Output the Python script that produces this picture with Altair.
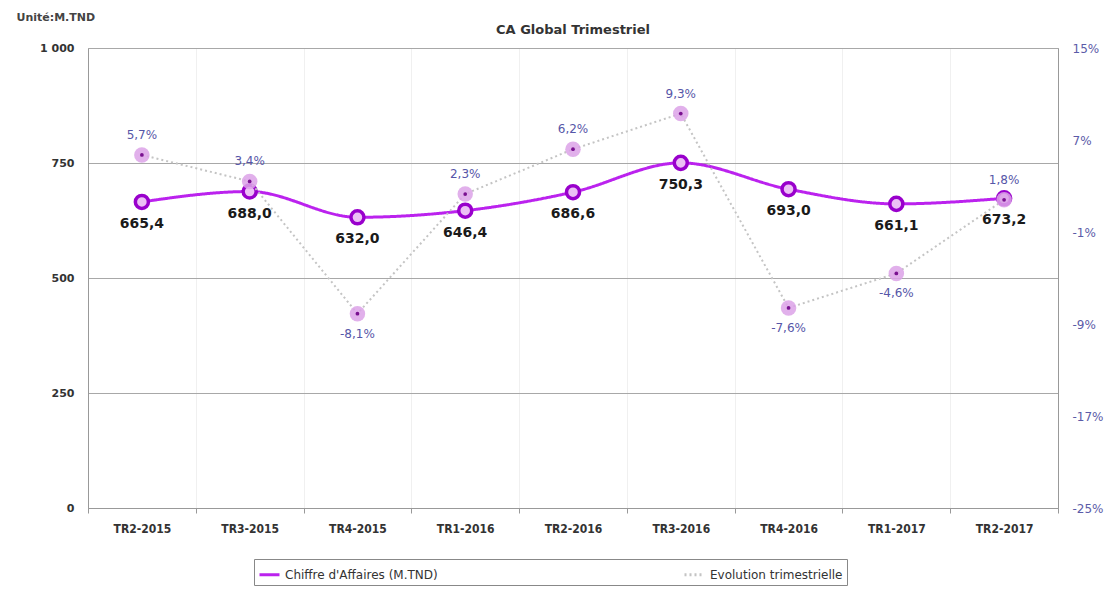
import altair as alt
import pandas as pd

quarters = ["TR2-2015", "TR3-2015", "TR4-2015", "TR1-2016", "TR2-2016",
            "TR3-2016", "TR4-2016", "TR1-2017", "TR2-2017"]
ca_values = [665.4, 688.0, 632.0, 646.4, 686.6, 750.3, 693.0, 661.1, 673.2]
evo_values = [5.7, 3.4, -8.1, 2.3, 6.2, 9.3, -7.6, -4.6, 1.8]
left_ticks = [0, 250, 500, 750, 1000]
right_ticks = [-25, -17, -9, -1, 7, 15]
series_names = ["Chiffre d'Affaires (M.TND)", "Evolution trimestrielle"]

df = pd.DataFrame({"q": quarters, "ca": ca_values, "evo": evo_values})
df["ca_lbl"] = [f"{v:.1f}".replace(".", ",") for v in ca_values]
df["evo_lbl"] = [f"{v:.1f}%".replace(".", ",") for v in evo_values]

FONT = "DejaVu Sans"
NARROW = "Liberation Sans Narrow, DejaVu Sans Condensed, DejaVu Sans"

x = alt.X("q:N", sort=quarters, bandPosition=0.5,
          scale=alt.Scale(type="band", paddingInner=0, paddingOuter=0),
          axis=alt.Axis(title=None, labelAngle=0, tickBand="extent", grid=True,
                        gridColor="#f0f0f0", domainColor="#999999", tickColor="#999999",
                        tickSize=5, labelPadding=10, labelFont=NARROW, labelFontSize=12,
                        labelColor="#333333", labelFontWeight="bold"))

y_left = alt.Y("ca:Q", scale=alt.Scale(domain=[0, 1000], nice=False),
               axis=alt.Axis(values=left_ticks, format="d",
                             labelExpr="datum.value == 1000 ? '1 000' : datum.label",
                             title="Unité:M.TND", titleAngle=0, titleX=-72, titleY=-37,
                             titleAlign="left", titleBaseline="top", titleFont=FONT,
                             titleFontSize=11, titleFontWeight="bold", titleColor="#444444",
                             grid=True, gridColor="#a8a8a8", domainColor="#999999",
                             ticks=False, labelPadding=14, labelFont=FONT, labelFontSize=11,
                             labelFontWeight="bold", labelColor="#333333"))

y_right = alt.Y("evo:Q", scale=alt.Scale(domain=[-25, 15], nice=False, zero=False),
                axis=alt.Axis(orient="right", values=right_ticks, title=None,
                              labelExpr="datum.value + '%'", grid=False, ticks=False,
                              domainColor="#999999", labelPadding=14, labelFont=FONT,
                              labelFontSize=12, labelColor="#5b5ba8"))

legend = alt.Legend(title=None, orient="none", legendX=166, legendY=511,
                    direction="horizontal", strokeColor="#888888", fillColor="white",
                    padding=4, columnPadding=240, labelFont=FONT, labelFontSize=12,
                    labelColor="#333333", symbolType="stroke", symbolSize=400,
                    symbolStrokeWidth=3, labelOffset=4)
color = alt.Color("series:N", scale=alt.Scale(domain=series_names,
                                              range=["#bb22ee", "#c4c4c4"]), legend=legend)
dash = alt.StrokeDash("series:N", scale=alt.Scale(domain=series_names,
                                                  range=[[1, 0], [2, 3]]), legend=legend)

base = alt.Chart(df)

ca_line = base.transform_calculate(series="\"Chiffre d'Affaires (M.TND)\"").mark_line(
    strokeWidth=3, interpolate="monotone").encode(x=x, y=y_left, color=color, strokeDash=dash)
ca_pts = base.mark_circle(size=170, fill="#ecc0f5", stroke="#9900cc", strokeWidth=3.5,
                          opacity=1).encode(x=x, y=y_left)
ca_text = base.mark_text(dy=22, font=FONT, fontSize=14, fontWeight="bold",
                         color="#1a1a1a").encode(x=x, y=y_left, text="ca_lbl:N")
left = alt.layer(ca_line, ca_pts, ca_text)

evo_line = base.transform_calculate(series="\"Evolution trimestrielle\"").mark_line(
    strokeWidth=2).encode(x=x, y=y_right, color=color, strokeDash=dash)
evo_halo = base.mark_circle(size=240, color="#dca2e8", opacity=0.85).encode(x=x, y=y_right)
evo_dot = base.mark_circle(size=14, color="#7a1090", opacity=1).encode(x=x, y=y_right)
evo_text_pos = base.transform_filter("datum.evo >= 0").mark_text(
    dy=-20, font=FONT, fontSize=12, color="#5656a8").encode(x=x, y=y_right, text="evo_lbl:N")
evo_text_neg = base.transform_filter("datum.evo < 0").mark_text(
    dy=20, font=FONT, fontSize=12, color="#5656a8").encode(x=x, y=y_right, text="evo_lbl:N")
right = alt.layer(evo_line, evo_halo, evo_dot, evo_text_pos, evo_text_neg)

chart = alt.layer(left, right).resolve_scale(y="independent").properties(
    width=970, height=460,
    autosize=alt.AutoSizeParams(type="none"),
    padding={"left": 80, "top": 40, "right": 50, "bottom": 84},
    title=alt.TitleParams("CA Global Trimestriel", font=FONT, fontSize=13,
                          fontWeight="bold", color="#333333", anchor="middle",
                          frame="group", offset=8, dy=34),
).configure_view(stroke="#999999")

chart.save("out.html", embed_options={"renderer": "svg", "actions": False})
